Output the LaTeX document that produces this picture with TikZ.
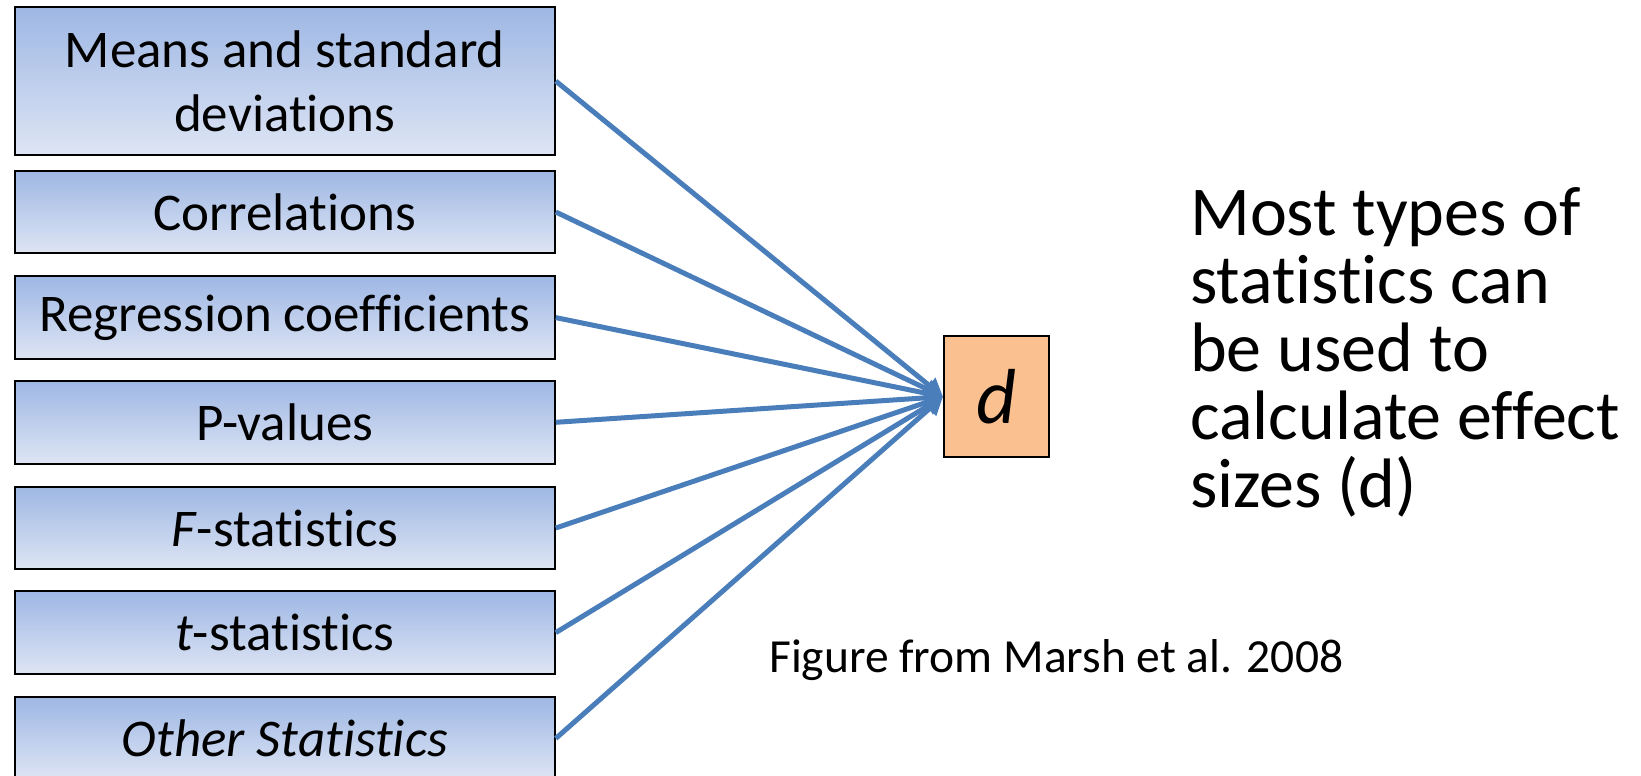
\documentclass[tikz,border=0pt]{standalone}
\usepackage{fontspec}
\setmainfont{Carlito}[Ligatures=NoCommon]
\usetikzlibrary{arrows.meta}
\definecolor{boxtop}{RGB}{158,183,228}
\definecolor{boxbot}{RGB}{222,229,244}
\definecolor{dfill}{RGB}{250,192,144}
\definecolor{linkblue}{RGB}{74,126,187}
\tikzset{
  statbox/.style={draw=black, line width=2pt, top color=boxtop, bottom color=boxbot,
    minimum width=540pt, inner sep=0pt, align=center,
    font=\fontsize{53}{64}\selectfont},
  dbox/.style={draw=black, line width=2pt, fill=dfill, minimum width=105pt, minimum height=121pt,
    inner sep=0pt, font=\fontsize{78}{90}\selectfont\itshape},
  conn/.style={draw=linkblue, line width=5pt, -{Triangle[length=18pt,width=19pt]}},
  bigtext/.style={anchor=north west, inner sep=0pt, align=left, font=\fontsize{70}{68}\selectfont},
  captext/.style={anchor=base west, inner sep=0pt, font=\fontsize{47.5}{56}\selectfont}
}
\begin{document}
\begin{tikzpicture}[x=1pt,y=-1pt]
\useasboundingbox (0,0) rectangle (1641,776);
\clip (0,0) rectangle (1641,776);
\node[statbox, minimum height=147.6pt] (b1) at (284.8,81.1) {Means and standard\\deviations};
\node[statbox, minimum height=82.7pt] (b2) at (284.8,212) {Correlations};
\node[statbox, minimum height=82.7pt] (b3) at (284.8,317.6) {Regression coefficients};
\node[statbox, minimum height=82.7pt] (b4) at (284.8,422.3) {P-values};
\node[statbox, minimum height=82.7pt] (b5) at (284.8,528) {\textit{F}-statistics};
\node[statbox, minimum height=82.7pt] (b6) at (284.8,632.6) {\textit{t}-statistics};
\node[statbox, minimum height=82.7pt] (b7) at (284.8,738.4) {\textit{Other Statistics}};
\node[dbox] (d) at (996.5,396.7) {d};
\foreach \b in {b1,b2,b3,b4,b5,b6,b7} \draw[conn] (\b.east) -- (d.west);
\node[bigtext] (txt) at (1190,187) {Most types of\\statistics can\\be used to\\calculate effect\\sizes (d)};
\node[captext] (cap) at (769,672) {Figure from Marsh et al. 2008};
\end{tikzpicture}
\end{document}
